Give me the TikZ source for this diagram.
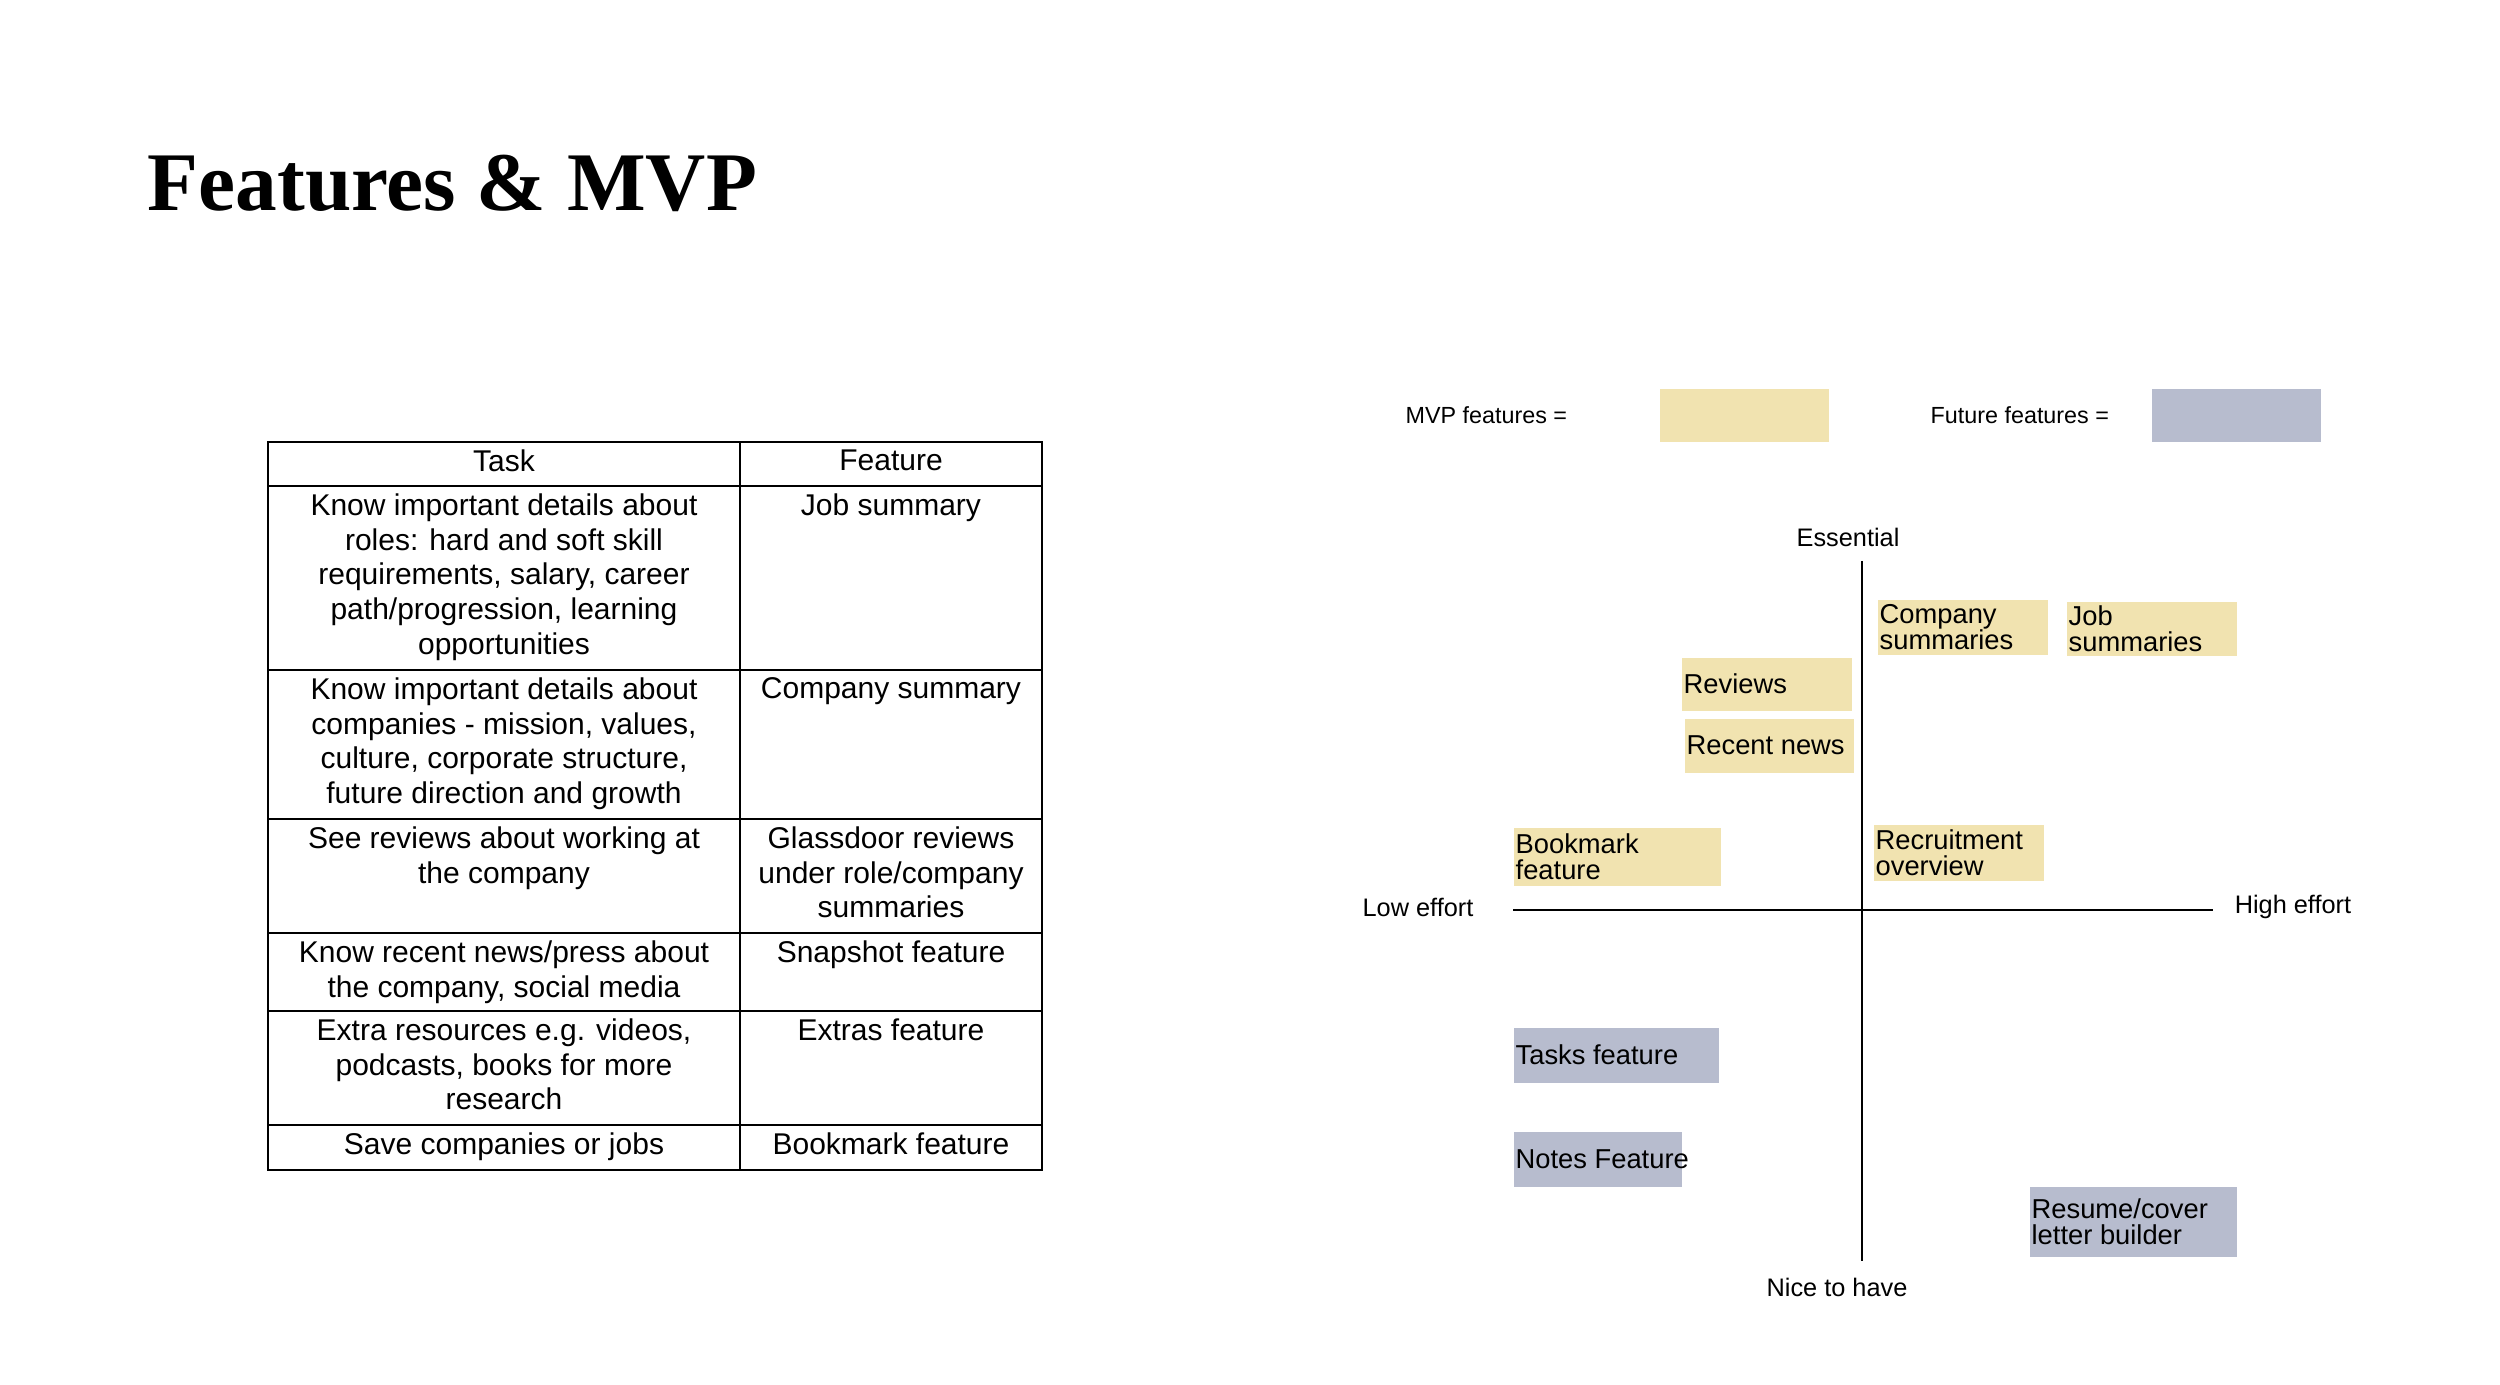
\documentclass[tikz,border=0pt]{standalone}
\usepackage{fontspec}
\setmainfont{Liberation Sans}
\newfontfamily\titlefont{Liberation Serif}
\definecolor{mvp}{HTML}{F1E3B0}
\definecolor{fut}{HTML}{B7BCCE}
\begin{document}
\begin{tikzpicture}[x=0.3pt,y=-0.3pt,
  cell/.style={anchor=north,align=center,font=\fontsize{9}{10.4}\selectfont,inner sep=0pt},
  lbl/.style={font=\fontsize{7.6}{9}\selectfont,inner sep=0pt},
  legend/.style={anchor=west,inner sep=0pt,font=\fontsize{7}{8}\selectfont},
  sticky/.style={anchor=north west,inner sep=0pt},
  stext/.style={anchor=west,align=left,inner sep=0.6pt,font=\fontsize{8.2}{7.9}\selectfont},
  tline/.style={line width=0.75pt}]
\useasboundingbox (0,0) rectangle (2500,1385);
\fill[white] (0,0) rectangle (2500,1385);
\node[anchor=base west,inner sep=0pt,font=\titlefont\bfseries\fontsize{25}{28}\selectfont] (title) at (147,211) {Features \& MVP};
% table
\draw[tline] (268,442) rectangle (1042,1170);
\draw[tline] (740,442) -- (740,1170);
\foreach \y in {486,670,819,933,1011,1125} \draw[tline] (268,\y) -- (1042,\y);
\node[cell] (t0) at (504,449) {Task};
\node[cell] (f0) at (891,449) {Feature};
\node[cell] (t1) at (504,493) {Know important details about\\roles: hard and soft skill\\requirements, salary, career\\path/progression, learning\\opportunities};
\node[cell] (f1) at (891,493) {Job summary};
\node[cell] (t2) at (504,677) {Know important details about\\companies - mission, values,\\culture, corporate structure,\\future direction and growth};
\node[cell] (f2) at (891,677) {Company summary};
\node[cell] (t3) at (504,826) {See reviews about working at\\the company};
\node[cell] (f3) at (891,826) {Glassdoor reviews\\under role/company\\summaries};
\node[cell] (t4) at (504,940) {Know recent news/press about\\the company, social media};
\node[cell] (f4) at (891,940) {Snapshot feature};
\node[cell] (t5) at (504,1018) {Extra resources e.g. videos,\\podcasts, books for more\\research};
\node[cell] (f5) at (891,1018) {Extras feature};
\node[cell] (t6) at (504,1132) {Save companies or jobs};
\node[cell] (f6) at (891,1132) {Bookmark feature};
% legend
\node[legend] (lm) at (1405,415) {MVP features =};
\fill[mvp] (1660,389) rectangle (1829,442);
\node[legend] (lf) at (1930,415) {Future features =};
\fill[fut] (2152,389) rectangle (2321,442);
% axes
\coordinate (vt) at (1862,561); \coordinate (vb) at (1862,1261);
\coordinate (hl) at (1513,910); \coordinate (hr) at (2213,910);
\draw[line width=0.6pt] (vt) -- (vb);
\draw[line width=0.6pt] (hl) -- (hr);
\node[lbl] (ess) at (1848,537) {Essential};
\node[lbl] (nice) at (1837,1287) {Nice to have};
\node[lbl] (low) at (1418,907) {Low effort};
\node[lbl] (high) at (2293,907) {High effort};
% stickies
\newcommand\stk[7]{\node[sticky,fill=#1,minimum width={(#4-#2)*0.3pt},minimum height={(#5-#3)*0.3pt}] (#6) at (#2,#3) {};
  \node[stext] (#6t) at (#6.west) {#7};}
\stk{mvp}{1877}{599}{2047}{654}{cs}{Company\\summaries}
\stk{mvp}{2066}{601}{2236}{655}{js}{Job\\summaries}
\stk{mvp}{1681}{657}{1851}{710}{rv}{Reviews}
\stk{mvp}{1684}{718}{1853}{772}{rn}{Recent news}
\stk{mvp}{1513}{827}{1720}{885}{bf}{Bookmark\\feature}
\stk{mvp}{1873}{824}{2043}{880}{ro}{Recruitment\\overview}
\stk{fut}{1513}{1027}{1718}{1082}{tf}{Tasks feature}
\stk{fut}{1513}{1131}{1681}{1186}{nf}{Notes Feature}
\stk{fut}{2029}{1186}{2236}{1256}{rc}{Resume/cover\\letter builder}
\end{tikzpicture}
\end{document}
